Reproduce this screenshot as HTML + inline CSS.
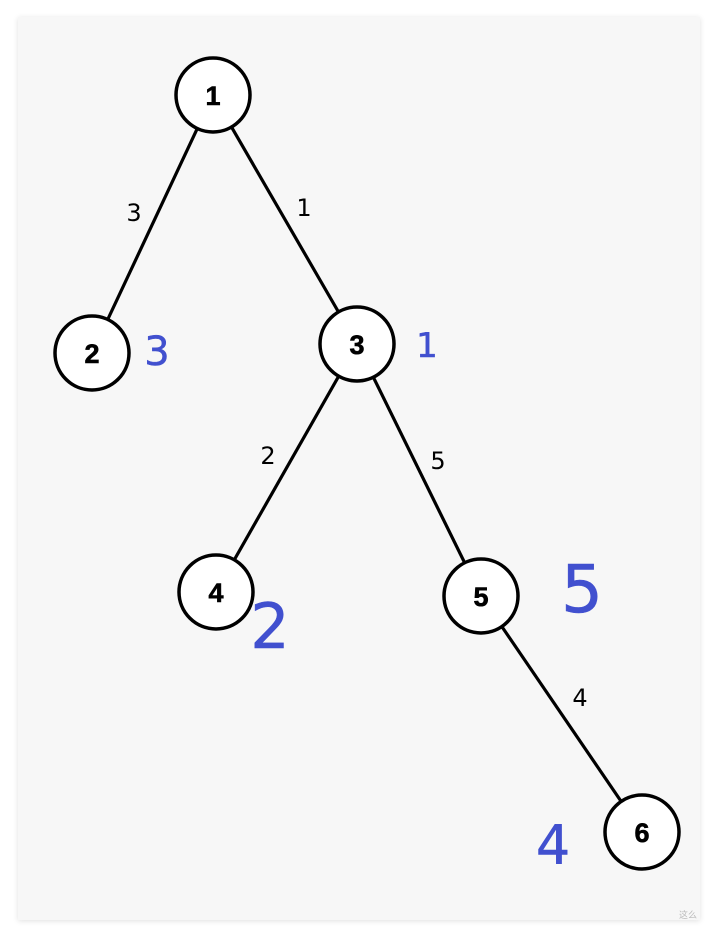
<!DOCTYPE html>
<html><head><meta charset="utf-8"><style>
html,body{margin:0;padding:0;background:#fff;}
svg{display:block;}
</style></head><body>
<svg width="718" height="938" viewBox="0 0 718 938" xmlns="http://www.w3.org/2000/svg">
<defs><filter id="sh" x="-5%" y="-5%" width="110%" height="110%"><feGaussianBlur stdDeviation="3"/></filter></defs>
<rect x="18" y="18" width="682" height="903" fill="#000" opacity="0.12" filter="url(#sh)"/>
<rect x="18" y="17" width="682" height="903" fill="#f7f7f7"/>
<g stroke="#000" stroke-width="3.2" fill="none">
<line x1="213" y1="95" x2="92" y2="353"/>
<line x1="213" y1="95" x2="357" y2="344"/>
<line x1="357" y1="344" x2="216" y2="592"/>
<line x1="357" y1="344" x2="481" y2="596"/>
<line x1="481" y1="596" x2="642" y2="832"/>
</g>
<g stroke="#000" stroke-width="3.5" fill="#fff">
<circle cx="213" cy="95" r="37"/>
<circle cx="92" cy="353" r="37"/>
<circle cx="357" cy="344" r="37"/>
<circle cx="216" cy="592" r="37"/>
<circle cx="481" cy="596" r="37"/>
<circle cx="642" cy="832" r="37"/>
</g>
<g font-family="Liberation Sans, sans-serif" font-weight="bold" font-size="27" text-anchor="middle" fill="#000" stroke="#000" stroke-width="0.6">
<text x="213" y="105">1</text>
<text x="92" y="363">2</text>
<text x="357" y="354">3</text>
<text x="216" y="602">4</text>
<text x="481" y="606">5</text>
<text x="642" y="842">6</text>
</g>
<g font-family="DejaVu Sans, sans-serif" font-size="24" text-anchor="middle" fill="#000">
<text x="134" y="221">3</text>
<text x="304" y="216">1</text>
<text x="268" y="464">2</text>
<text x="438" y="469">5</text>
<text x="580" y="706">4</text>
</g>
<g font-family="DejaVu Sans, sans-serif" text-anchor="middle" fill="#4150cf" stroke="#4150cf" stroke-width="0.5">
<text x="157" y="365" font-size="40">3</text>
<text x="427" y="357" font-size="34">1</text>
<text x="270" y="648" font-size="62">2</text>
<text x="582" y="612" font-size="66">5</text>
<text x="553" y="864" font-size="54">4</text>
</g>
<text x="688" y="918" font-family="Liberation Sans, 'Noto Sans CJK SC', sans-serif" font-size="9" fill="#bbb" text-anchor="middle">这么</text>
</svg>
</body></html>
